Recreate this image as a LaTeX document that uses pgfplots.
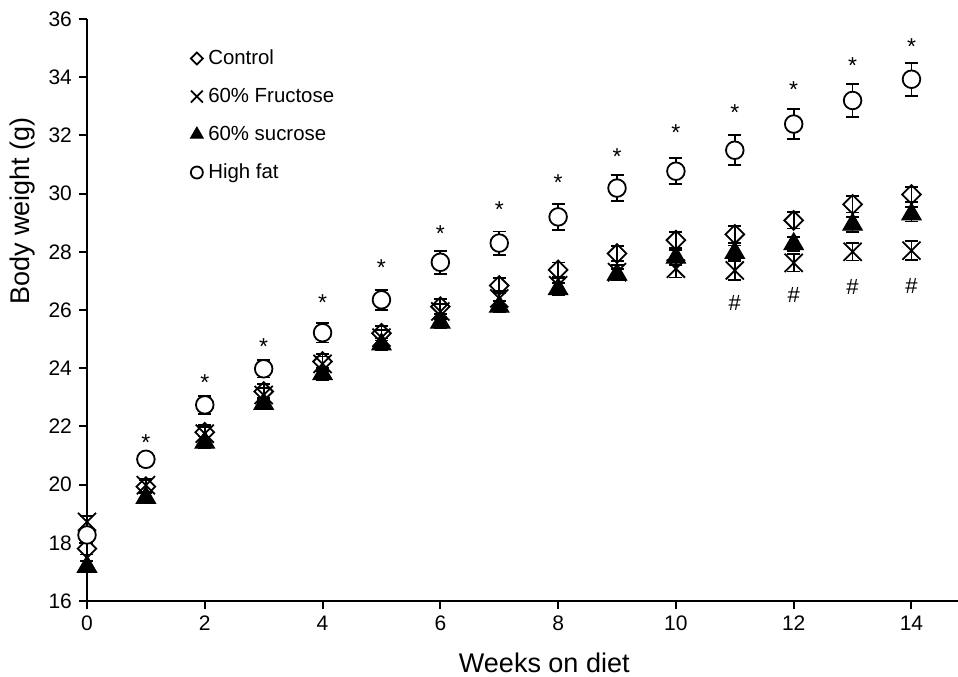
\documentclass[border=0pt]{standalone}
\usepackage{fontspec}
\setmainfont{Liberation Sans}
\usepackage{pgfplots}
\pgfplotsset{compat=1.18}
\usepackage{pgfplotstable}

\pgfplotstableread{
x y e
0 17.80 0.20
1 19.93 0.22
2 21.80 0.25
3 23.20 0.25
4 24.23 0.25
5 25.20 0.25
6 26.12 0.25
7 26.84 0.25
8 27.38 0.25
9 27.94 0.25
10 28.40 0.28
11 28.60 0.30
12 29.08 0.28
13 29.63 0.28
14 29.97 0.25
}\control

\pgfplotstableread{
x y e
0 18.72 0.20
1 19.98 0.22
2 21.75 0.22
3 23.08 0.25
4 24.15 0.25
5 25.05 0.25
6 25.95 0.25
7 26.40 0.25
8 26.85 0.25
9 27.30 0.25
10 27.42 0.30
11 27.36 0.32
12 27.62 0.30
13 28.00 0.30
14 28.04 0.32
}\fructose

\pgfplotstableread{
x y e
0 17.18 0.20
1 19.55 0.20
2 21.45 0.20
3 22.78 0.20
4 23.80 0.20
5 24.82 0.20
6 25.57 0.20
7 26.12 0.20
8 26.72 0.20
9 27.22 0.20
10 27.80 0.25
11 27.97 0.25
12 28.27 0.25
13 28.94 0.25
14 29.29 0.25
}\sucrose

\pgfplotstableread{
x y e
0 18.27 0.15
1 20.87 0.22
2 22.74 0.30
3 23.98 0.30
4 25.22 0.34
5 26.35 0.34
6 27.64 0.39
7 28.30 0.40
8 29.20 0.44
9 30.19 0.44
10 30.77 0.45
11 31.49 0.52
12 32.39 0.52
13 33.20 0.56
14 33.93 0.57
}\highfat

\pgfplotstableread{
x y
1 21.45
2 23.50
3 24.76
4 26.26
5 27.45
6 28.63
7 29.45
8 30.37
9 31.28
10 32.11
11 32.80
12 33.58
13 34.41
14 35.05
}\stars

\pgfplotstableread{
x y
11 26.25
12 26.50
13 26.78
14 26.84
}\hashes

\begin{document}
\begin{tikzpicture}
\begin{axis}[
  name=ax,
  scale only axis,
  width=435.5pt, height=291pt,
  xmin=0, xmax=14.79, ymin=16, ymax=36,
  axis lines=left,
  axis line style={line width=1pt, -},
  xtick={0,2,...,14}, ytick={16,18,...,36},
  tick align=outside,
  major tick length=4pt,
  tick style={line width=1pt, black},
  tick label style={font=\fontsize{10.5}{12}\selectfont},
  /pgf/number format/assume math mode=true,
  clip=false,
  xlabel={Weeks on diet},
  ylabel={Body weight (g)},
  label style={font=\fontsize{13.5}{16}\selectfont},
  xlabel style={at={(axis description cs:0.525,-0.1065)}, anchor=center},
  ylabel style={at={(axis description cs:-0.0746,0.67)}, anchor=center},
  legend cell align=left,
  legend image code/.code={\draw[#1] plot coordinates {(0pt,-0.6pt)};},
  legend style={draw=none, fill=none, at={(axis cs:1.75,35.02)}, anchor=north west,
    font=\fontsize{10.2}{12}\selectfont, row sep=9.6pt, inner sep=0pt,
    nodes={inner xsep=2.5pt, inner ysep=1pt, text height=7.4pt, text depth=0pt}},
  every axis plot/.append style={line width=0.9pt},
  error bars/error bar style={line width=0.9pt, black},
  error bars/error mark options={rotate=90, mark size=3.25pt, line width=0.9pt, black},
]
\addplot+[only marks, mark=square, mark size=3.3pt, black,
  mark options={rotate=45, fill=white, draw=black, line width=0.9pt},
  legend image post style={mark size=2.1pt},
  error bars/.cd, y dir=both, y explicit]
  table[x=x, y=y, y error=e] {\control};
\addlegendentry{Control}
\addplot+[only marks, mark=x, mark size=6.4pt, black,
  mark options={draw=black, line width=0.9pt},
  legend image post style={mark size=4.2pt},
  error bars/.cd, y dir=both, y explicit]
  table[x=x, y=y, y error=e] {\fructose};
\addlegendentry{60\% Fructose}
\addplot+[only marks, mark=triangle*, mark size=5.6pt, black,
  mark options={fill=black, draw=black, line width=0.5pt},
  legend image post style={mark size=3.7pt},
  error bars/.cd, y dir=both, y explicit]
  table[x=x, y=y, y error=e] {\sucrose};
\addlegendentry{60\% sucrose}
\addplot+[only marks, mark=*, mark size=4.4pt, black,
  mark options={fill=white, draw=black, line width=0.9pt},
  legend image post style={mark size=3pt},
  error bars/.cd, y dir=both, y explicit]
  table[x=x, y=y, y error=e] {\highfat};
\addlegendentry{High fat}
\addplot[only marks, mark=none, forget plot,
  nodes near coords={*},
  every node near coord/.append style={anchor=center, font=\fontsize{11.5}{12}\selectfont}]
  table[x=x, y=y] {\stars};
\addplot[only marks, mark=none, forget plot,
  nodes near coords={\#},
  every node near coord/.append style={anchor=center, font=\fontsize{11}{12}\selectfont}]
  table[x=x, y=y] {\hashes};
\end{axis}
\pgfresetboundingbox
\path ([xshift=-43.5pt, yshift=-37.5pt]ax.south west) rectangle ++(479pt,338pt);
\end{tikzpicture}
\end{document}
